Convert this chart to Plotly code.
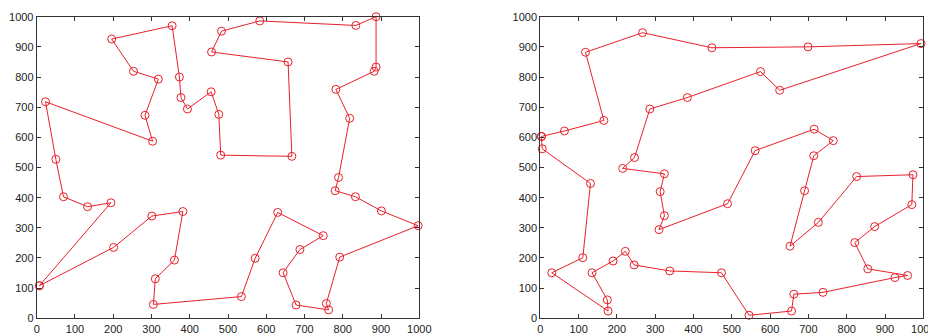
import plotly.graph_objects as go

# Left tour (city order, closed loop)
left_x = [7, 194, 133, 70, 50, 23, 303, 283, 318, 253, 196, 354, 373, 377, 394, 456, 476, 481, 667, 657,
          457, 483, 583, 834, 887, 887, 882, 782, 818, 789, 780, 833, 901, 997, 792, 757, 763, 678, 644, 688,
          749, 630, 571, 535, 305, 310, 360, 382, 301, 201]
left_y = [108, 383, 370, 403, 527, 718, 587, 673, 793, 819, 926, 970, 800, 732, 694, 751, 676, 541, 537, 850,
          883, 952, 986, 971, 1000, 833, 819, 759, 663, 467, 423, 403, 356, 307, 203, 49, 28, 44, 151, 228,
          274, 351, 199, 72, 46, 131, 193, 354, 339, 235]

# Right tour (city order, closed loop)
right_x = [3, 63, 166, 118, 267, 448, 699, 994, 625, 575, 384, 286, 246, 215, 324, 313, 324, 310, 489, 561,
           715, 765, 714, 690, 652, 726, 826, 973, 970, 873, 821, 855, 959, 926, 738, 662, 656, 545, 473, 338,
           245, 222, 190, 135, 175, 177, 30, 111, 131, 5]
right_y = [603, 621, 656, 882, 947, 897, 900, 911, 756, 818, 732, 694, 533, 497, 479, 420, 340, 294, 380, 556,
           627, 589, 539, 423, 239, 318, 470, 476, 377, 304, 251, 164, 142, 135, 86, 80, 24, 10, 151, 157,
           177, 222, 190, 151, 61, 24, 151, 201, 447, 562]

tick_vals = [0, 100, 200, 300, 400, 500, 600, 700, 800, 900, 1000]
tick_text = [str(v) for v in tick_vals]

RED = "#e8202a"

fig = go.Figure()
for xs, ys, xa, ya in [(left_x, left_y, "x", "y"), (right_x, right_y, "x2", "y2")]:
    fig.add_trace(go.Scatter(
        x=xs + xs[:1], y=ys + ys[:1], mode="lines+markers",
        line=dict(color=RED, width=1),
        marker=dict(symbol="circle-open", size=8, color=RED, line=dict(width=1, color=RED)),
        xaxis=xa, yaxis=ya, cliponaxis=False, showlegend=False, hoverinfo="skip"))

axis_common = dict(
    range=[0, 1000], tickvals=tick_vals, ticktext=tick_text,
    ticks="inside", ticklen=4, tickcolor="#333333", tickwidth=1,
    showline=True, linecolor="#333333", linewidth=1, mirror="ticks",
    showgrid=False, zeroline=False, automargin=False,
    tickfont=dict(family="Liberation Sans, Arial, sans-serif", size=11, color="#222222"),
    fixedrange=True,
)

# page has an 8px body margin; figure is sized/placed to compensate
W, H = 928, 328
ydom = [17.7 / H, 319.3 / H]
fig.update_layout(
    width=W, height=H,
    margin=dict(l=0, r=0, t=0, b=0),
    paper_bgcolor="white", plot_bgcolor="white",
    xaxis=dict(domain=[28.7 / W, 411.3 / W], anchor="y", **axis_common),
    yaxis=dict(domain=ydom, anchor="x", **axis_common),
    xaxis2=dict(domain=[532.3 / W, 915.3 / W], anchor="y2", **axis_common),
    yaxis2=dict(domain=ydom, anchor="x2", **axis_common),
)

fig.write_html("out.html")
